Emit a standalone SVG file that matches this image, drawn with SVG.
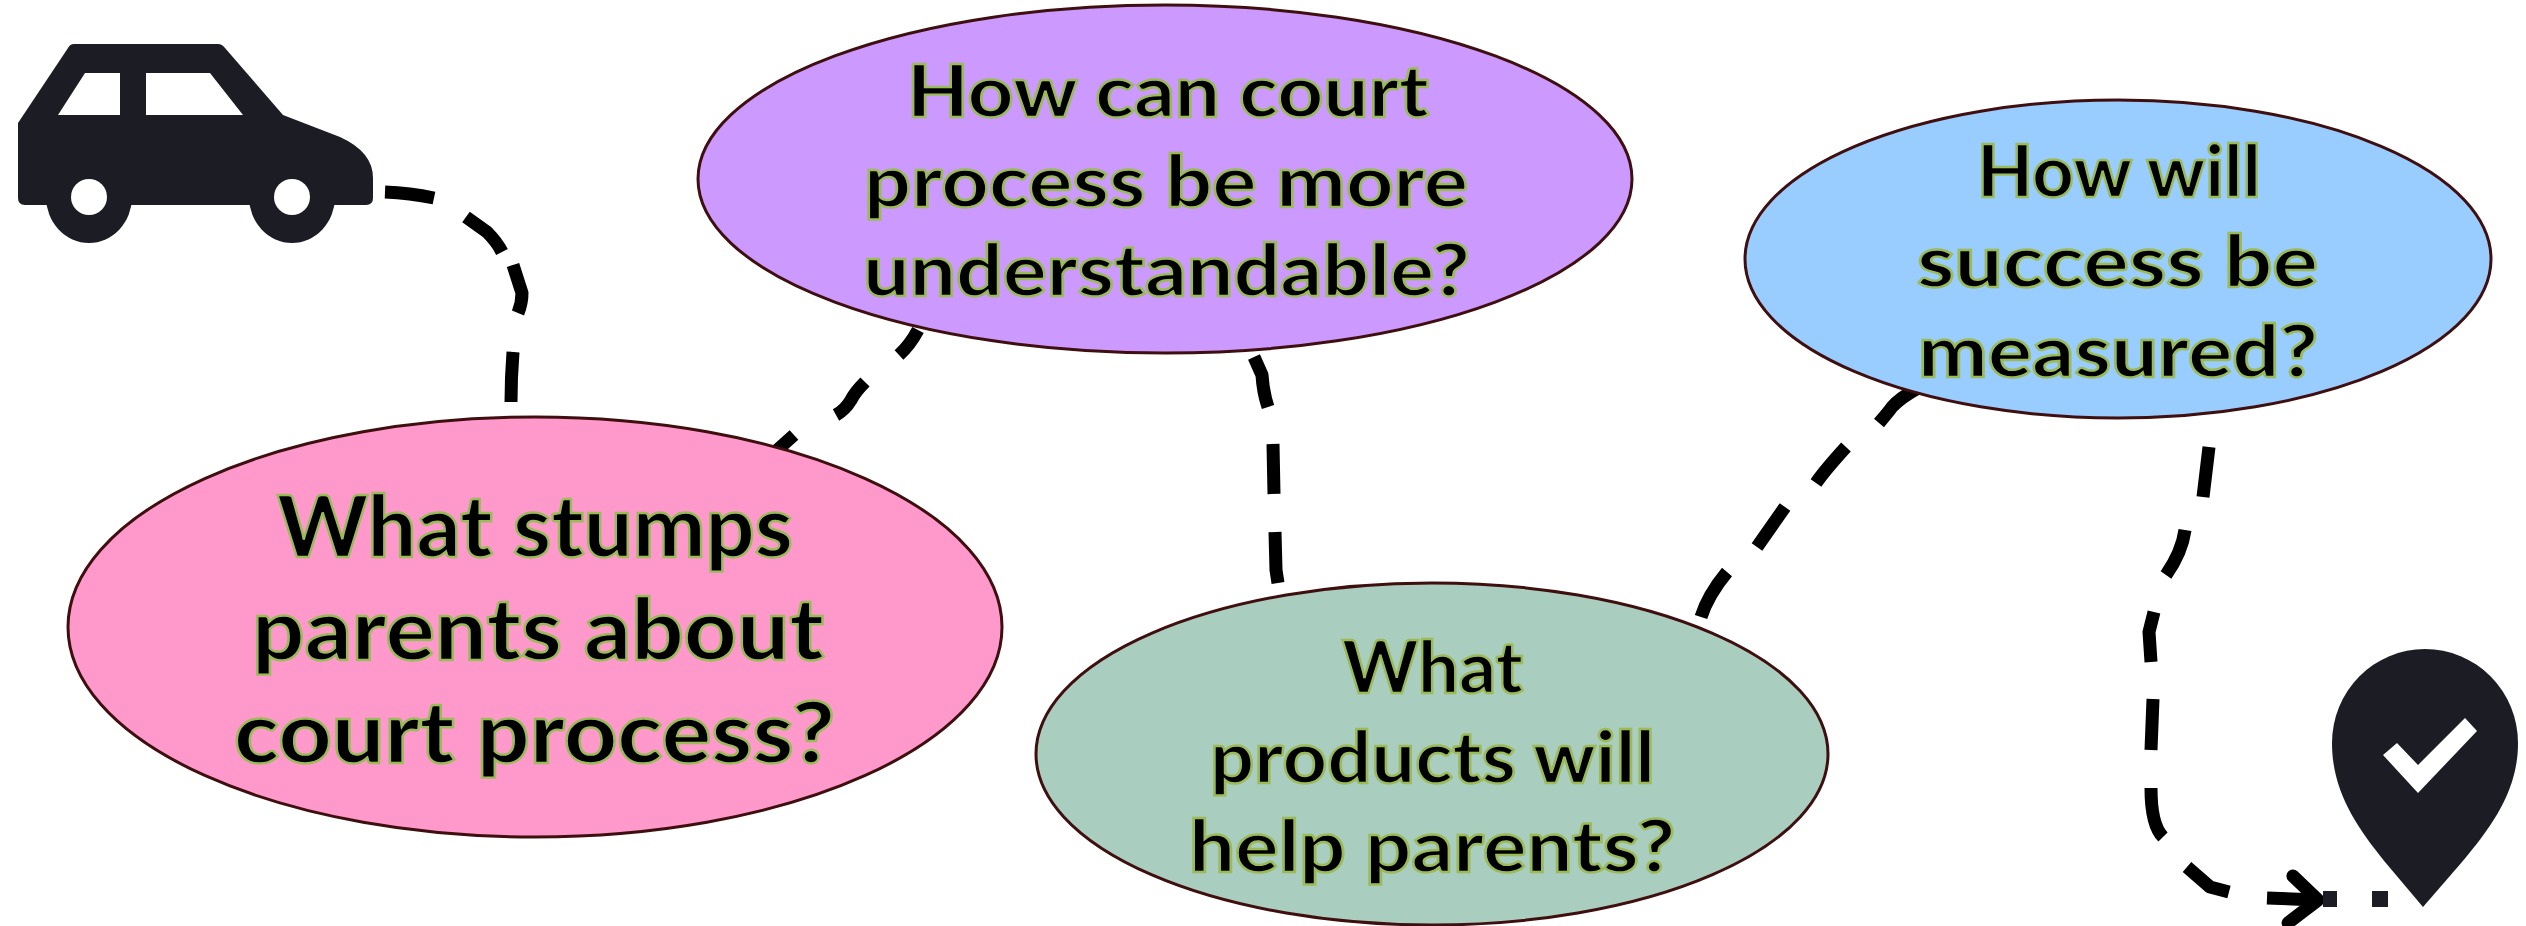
<svg xmlns="http://www.w3.org/2000/svg" width="2526" height="926" viewBox="0 0 2526 926">
<style>
.icon{fill:#1c1c24}
.hole{fill:#fff}
.oval{stroke:#3f0f0f;stroke-width:3}
.label{font-family:"Lato","Liberation Sans",sans-serif;font-weight:900;fill:#000;stroke:#9bbb59;stroke-width:2.4}
.l86{font-size:86px}
.l72{font-size:72px}
.dash{fill:none;stroke:#000;stroke-width:13;stroke-linejoin:round}
</style>
<defs>
<marker id="arrow" markerUnits="userSpaceOnUse" markerWidth="60" markerHeight="80" refX="40" refY="40" orient="auto" overflow="visible">
<path d="M14 17L40 40L11 64" fill="none" stroke="#000" stroke-width="13" stroke-linecap="round" stroke-linejoin="round"/>
</marker>
</defs>
<rect width="2526" height="926" fill="#fff"/>
<g id="connectors">
<path class="dash" d="M385 192Q410 193 434 198M466 217L487 232Q497 242 502 252M513 265L522 293Q522 303 518 313M513 352Q511 378 511 402"/>
<path class="dash" d="M918 330Q910 345 899 355M865 382Q855 392 851 400Q845 410 836 415M794 435L775 452"/>
<path class="dash" d="M1254 357L1262 375Q1263 392 1268 407M1273 444L1274 494M1275 532L1276 570L1278 583"/>
<path class="dash" d="M1701 617Q1708 595 1727 572M1757 547L1785 507M1816 483Q1825 470 1846 447M1879 423Q1890 410 1892 407Q1900 398 1918 388"/>
<path class="dash" d="M2209 447L2203 497M2185 530Q2182 552 2166 575M2154 612L2149 632L2151 662M2153 699L2151 750M2151 788Q2151 825 2163 837M2187 867L2210 887L2229 892"/>
<path class="dash" marker-end="url(#arrow)" d="M2267 898L2318 900"/>
</g>
<g id="start-car">
<path class="icon" d="M74 44H218Q222 44 225 48L283 115L340 137Q373 152 373 178V198Q373 205 366 205H25Q18 205 18 198V123L68 48Q70 44 74 44Z"/>
<ellipse class="icon" cx="89" cy="197" rx="43" ry="46"/>
<ellipse class="icon" cx="292" cy="197" rx="43" ry="46"/>
<ellipse class="hole" cx="89" cy="197" rx="18" ry="18"/>
<ellipse class="hole" cx="292" cy="197" rx="18" ry="18"/>
<path class="hole" d="M85 73H120V115H58ZM146 73H210L243 115H146Z"/>
</g>
<g id="node-stumps">
<ellipse class="oval" cx="535" cy="627" rx="467" ry="210" fill="#ff99cc"/>
<text class="label l86" x="277" y="557" textLength="516" lengthAdjust="spacingAndGlyphs">What stumps</text>
<text class="label l86" x="252" y="660" textLength="572" lengthAdjust="spacingAndGlyphs">parents about</text>
<text class="label l86" x="234" y="763" textLength="601" lengthAdjust="spacingAndGlyphs">court process?</text>
</g>
<g id="node-understandable">
<ellipse class="oval" cx="1165" cy="179" rx="467" ry="174" fill="#cc99ff"/>
<text class="label l72" x="907" y="117" textLength="522" lengthAdjust="spacingAndGlyphs">How can court</text>
<text class="label l72" x="864" y="207" textLength="604" lengthAdjust="spacingAndGlyphs">process be more</text>
<text class="label l72" x="863" y="296" textLength="607" lengthAdjust="spacingAndGlyphs">understandable?</text>
</g>
<g id="node-success">
<ellipse class="oval" cx="2118" cy="259" rx="373" ry="159" fill="#99ccff"/>
<text class="label l72" x="1977" y="197" textLength="284" lengthAdjust="spacingAndGlyphs">How will</text>
<text class="label l72" x="1917" y="287" textLength="401" lengthAdjust="spacingAndGlyphs">success be</text>
<text class="label l72" x="1918" y="377" textLength="400" lengthAdjust="spacingAndGlyphs">measured?</text>
</g>
<g id="node-products">
<ellipse class="oval" cx="1432" cy="754" rx="396" ry="171" fill="#a9cdbe"/>
<text class="label l72" x="1342" y="693" textLength="181" lengthAdjust="spacingAndGlyphs">What</text>
<text class="label l72" x="1210" y="783" textLength="445" lengthAdjust="spacingAndGlyphs">products will</text>
<text class="label l72" x="1189" y="872" textLength="486" lengthAdjust="spacingAndGlyphs">help parents?</text>
</g>
<g id="end-pin">
<path class="icon" d="M2423 907L2385 862C2355 825 2332 790 2332 743A93 94 0 1 1 2518 743C2518 790 2493 825 2462 862Z"/>
<rect class="icon" x="2323" y="891" width="14" height="16"/>
<rect class="icon" x="2372" y="891" width="16" height="16"/>
<path class="hole" d="M2383 755L2397 743L2418 765L2465 718L2477 731L2418 793Z"/>
</g>
</svg>
